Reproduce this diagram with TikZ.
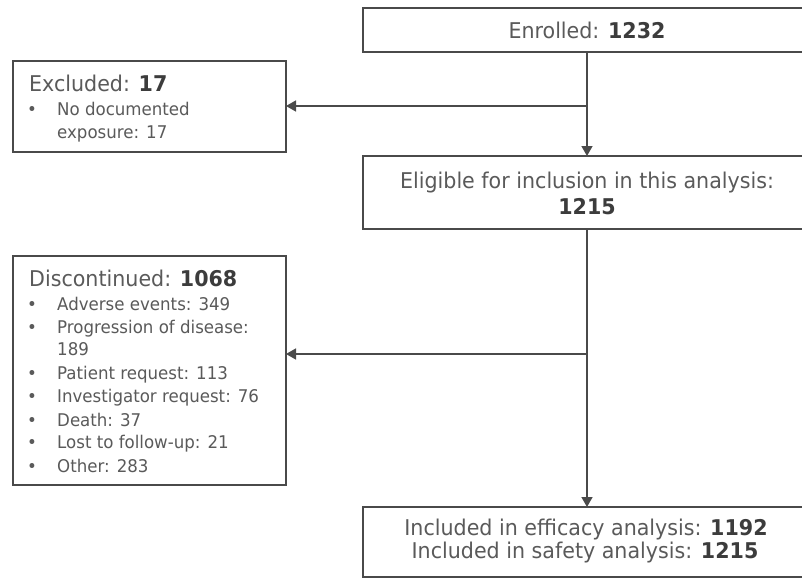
\documentclass[tikz,border=0pt]{standalone}
\usepackage{fontspec}
\setmainfont[FakeStretch=0.95]{DejaVu Sans}
\usetikzlibrary{arrows.meta}
\definecolor{txtc}{HTML}{5A5A5A}
\definecolor{numc}{HTML}{3C3C3C}
\definecolor{lnc}{HTML}{4A4A4A}
\newcommand\bnum[1]{\textcolor{numc}{\bfseries #1}}
\begin{document}
\begin{tikzpicture}[x=1pt,y=-1pt,
  boxsh/.style={draw=lnc, line width=2pt, rectangle, inner sep=0pt, outer sep=0pt, fill=white},
  conn/.style={draw=lnc, line width=1.5pt},
  arr/.style={conn, -{Triangle[length=10pt,width=11pt]}},
  big/.style={text=txtc, inner sep=0pt, font=\fontsize{21.7}{26}\selectfont},
  small/.style={text=txtc, inner sep=0pt, font=\fontsize{17.5}{21}\selectfont}]
\useasboundingbox (0,0) rectangle (802,578);
\clip (0,0) rectangle (802,578);
\fill[white] (0,0) rectangle (802,578);

% boxes (right parts run off the picture)
\node[boxsh, minimum width=480pt, minimum height=44pt] (enr) at (603,30) {};
\node[boxsh, minimum width=480pt, minimum height=73pt] (elig) at (603,192.5) {};
\node[boxsh, minimum width=480pt, minimum height=70pt] (bot) at (603,542) {};
\node[boxsh, minimum width=273pt, minimum height=91pt] (excl) at (149.5,106.5) {};
\node[boxsh, minimum width=273pt, minimum height=229pt] (disc) at (149.5,370.5) {};

% connectors
\coordinate (t1) at (587,52);
\coordinate (b1) at (587,106);
\coordinate (b2) at (587,354);
\coordinate (t2) at (587,229);
\draw[arr] (t1) -- (t1 |- elig.north);
\draw[arr] (b1) -- (b1 -| excl.east);
\draw[arr] (t2) -- (t2 |- bot.north);
\draw[arr] (b2) -- (b2 -| disc.east);

% main texts
\node[big, anchor=base] (tenr) at (587,39) {Enrolled: \bnum{1232}};
\node[big, anchor=base] (telig1) at (587,188) {Eligible for inclusion in this analysis:};
\node[big, anchor=base] (telig2) at (587,214) {\bnum{1215}};
\node[big, anchor=base] (tbot1) at (586,535.5) {Included in efficacy analysis: \bnum{1192}};
\node[big, anchor=base] (tbot2) at (585,558.5) {Included in safety analysis: \bnum{1215}};

% excluded
\node[big, anchor=base west] (texcl) at (29,91) {Excluded: \bnum{17}};
\node[small, anchor=base] (bx1) at (32,115) {•};
\node[small, anchor=base west] (ex1) at (57,115) {No documented};
\node[small, anchor=base west] (ex2) at (57,138) {exposure: 17};

% discontinued
\node[big, anchor=base west] (tdisc) at (29,286) {Discontinued: \bnum{1068}};
\foreach \yy/\tx [count=\i] in {310/Adverse events: 349, 333/Progression of disease:, 379/Patient request: 113, 402/Investigator request: 76, 426/Death: 37, 448/Lost to follow-up: 21, 472/Other: 283}{
  \node[small, anchor=base] (bd\i) at (32,\yy) {•};
  \node[small, anchor=base west] (di\i) at (57,\yy) {\tx};
}
\node[small, anchor=base west] (di189) at (57,355) {189};
\end{tikzpicture}
\end{document}
